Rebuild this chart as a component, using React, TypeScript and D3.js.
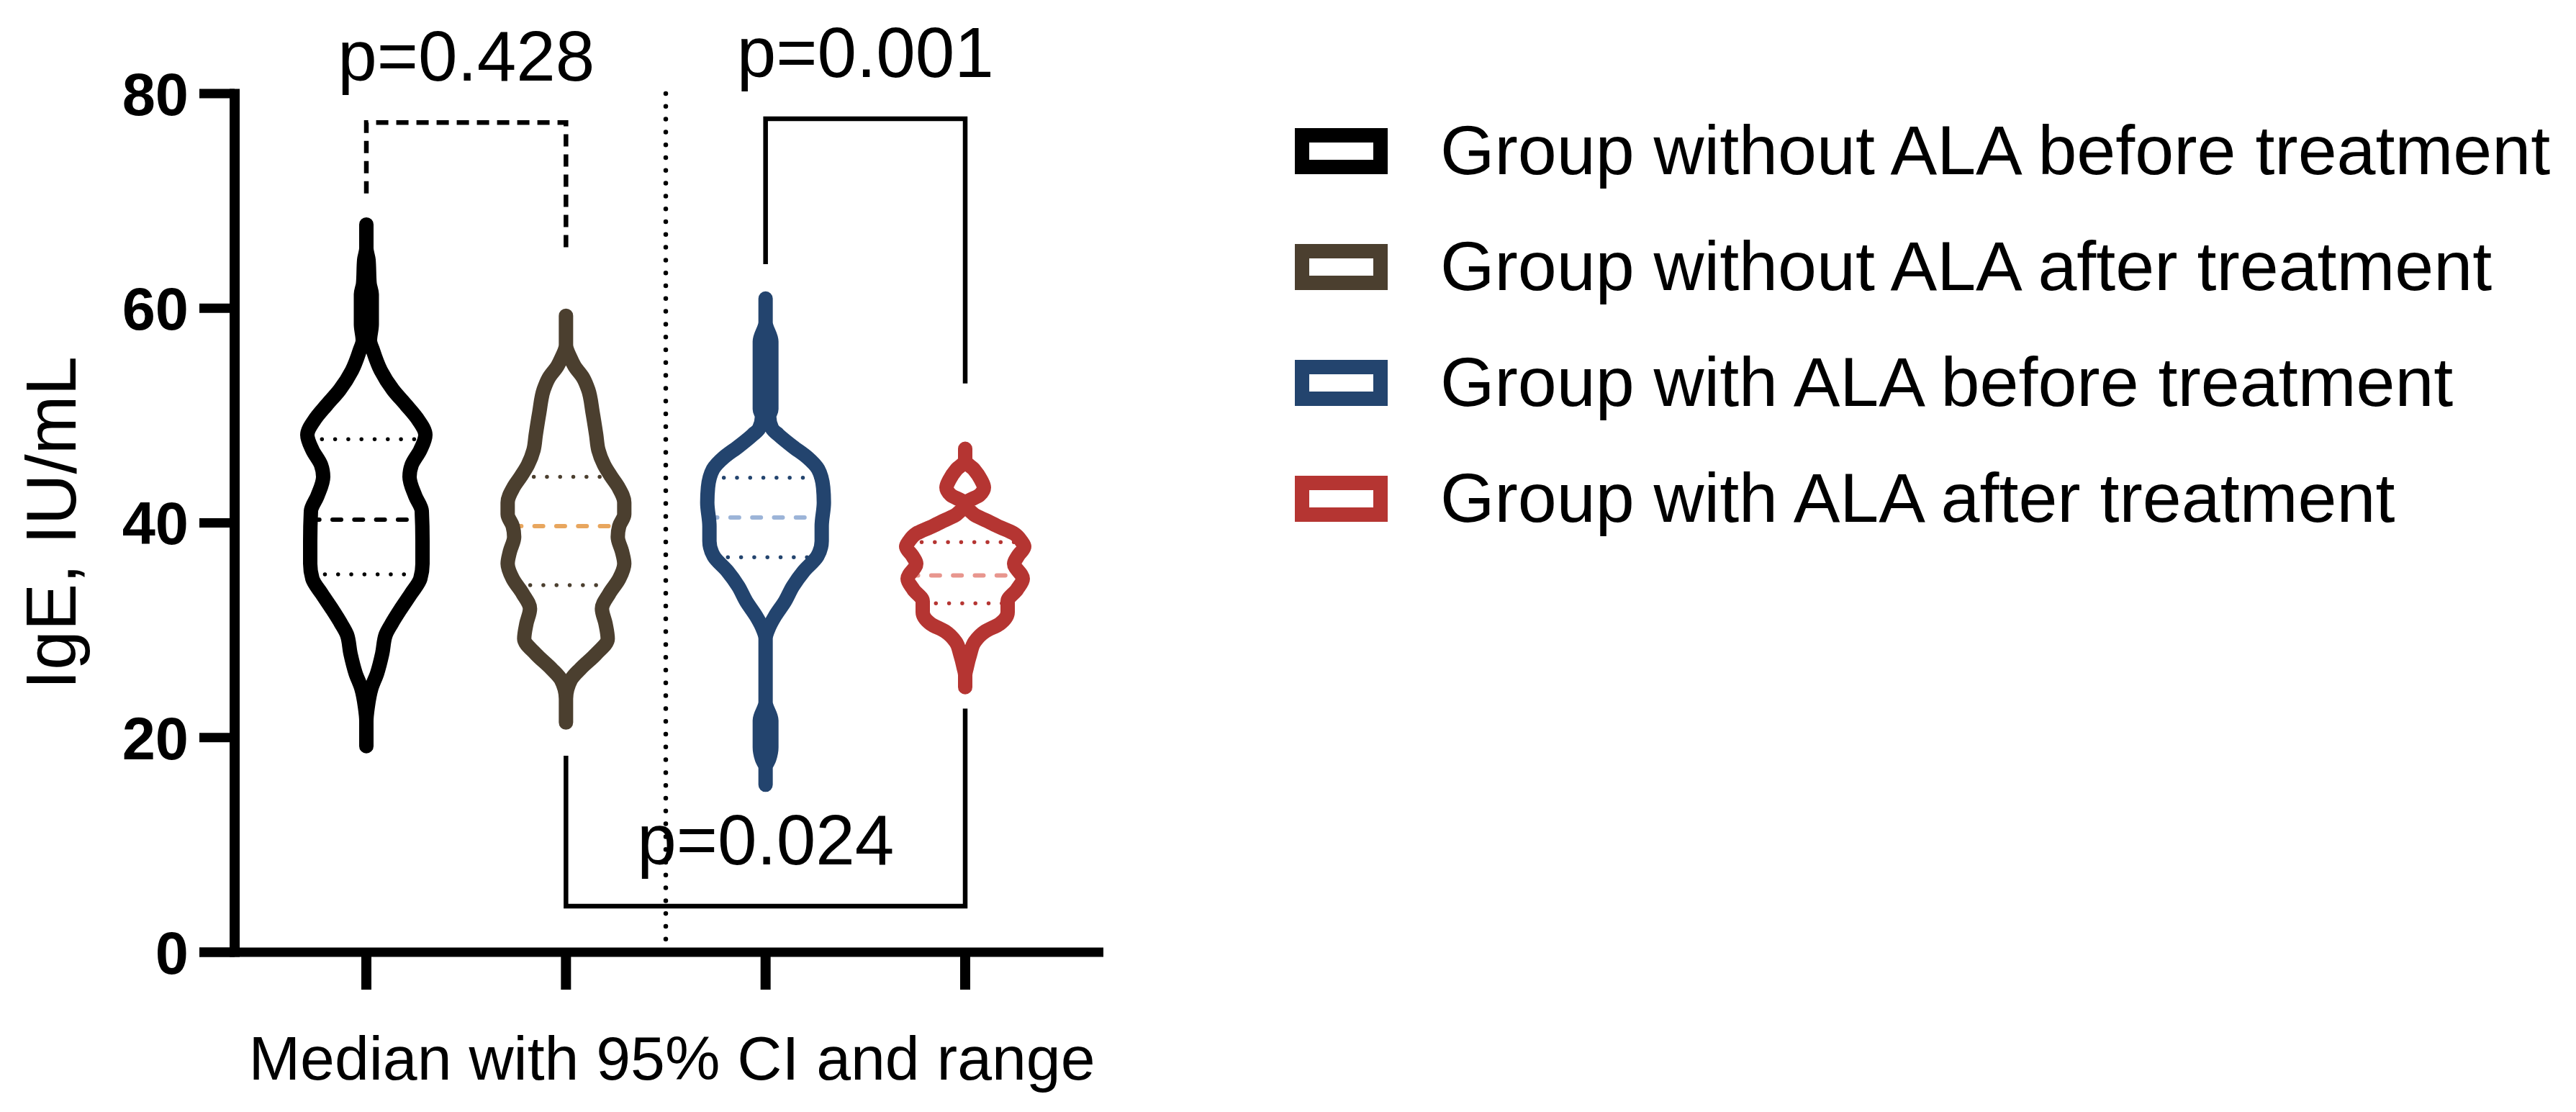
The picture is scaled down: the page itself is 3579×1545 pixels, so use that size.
import React from "react";
import * as d3 from "d3";

// ---- data ----
const groups = [
  "Group without ALA before treatment",
  "Group without ALA after treatment",
  "Group with ALA before treatment",
  "Group with ALA after treatment",
];
const colors = ["#000000", "#4B3F2F", "#23446E", "#B53532"];
const medianColors = ["#000000", "#E8A65E", "#9CB4D8", "#E8968E"];

const medians = [40.3, 39.7, 40.5, 35.1];
const upperQuartiles = [47.8, 44.3, 44.2, 38.2];
const lowerQuartiles = [35.2, 34.2, 36.8, 32.5];

// violin outlines: [IgE value, relative density]
const densityNoAlaBefore = [
  [67.8, 0], [65.6, 0], [64.5, 0.03], [62.3, 0.045], [61.3, 0.075], [58.5, 0.075],
  [57.0, 0.05], [56.1, 0.09], [54.2, 0.2], [52.4, 0.37], [51.0, 0.55], [49.6, 0.72],
  [48.2, 0.82], [46.8, 0.75], [45.4, 0.63], [44.3, 0.6], [42.5, 0.68], [41.1, 0.77],
  [38.3, 0.78], [36.2, 0.78], [34.8, 0.75], [33.4, 0.62], [32.0, 0.48], [30.6, 0.35],
  [29.6, 0.27], [27.8, 0.22], [26.0, 0.15], [24.6, 0.07], [22.9, 0.02], [21.5, 0], [19.2, 0],
];
const densityNoAlaAfter = [
  [59.3, 0], [56.6, 0], [55.4, 0.06], [54.6, 0.12], [53.5, 0.24], [52.4, 0.31],
  [50.3, 0.37], [48.2, 0.42], [46.8, 0.45], [45.4, 0.53], [44.3, 0.63], [43.3, 0.73],
  [41.9, 0.81], [40.8, 0.81], [39.7, 0.74], [38.7, 0.72], [37.3, 0.78], [36.2, 0.81],
  [34.8, 0.74], [33.4, 0.6], [32.0, 0.5], [30.6, 0.55], [29.2, 0.58], [27.8, 0.42],
  [26.4, 0.2], [25.4, 0.07], [23.6, 0], [21.4, 0],
];
const densityAlaBefore = [
  [60.9, 0], [58.7, 0], [56.9, 0.08], [50.6, 0.08], [49.9, 0.05], [48.8, 0.09],
  [48.2, 0.18], [47.1, 0.38], [46.1, 0.58], [45.0, 0.73], [43.3, 0.8], [41.9, 0.81],
  [39.7, 0.78], [38.3, 0.78], [36.9, 0.72], [35.5, 0.53], [34.1, 0.38], [32.7, 0.27],
  [31.3, 0.13], [30.3, 0.05], [29.2, 0], [23.3, 0], [21.6, 0.08], [19.1, 0.08],
  [18.0, 0.05], [17.2, 0], [15.6, 0],
];
const densityAlaAfter = [
  [46.9, 0], [45.8, 0], [45.0, 0.12], [44.0, 0.22], [43.3, 0.26], [42.6, 0.2],
  [41.85, 0.02], [40.8, 0.12], [40.2, 0.3], [39.7, 0.45], [39.0, 0.68], [38.3, 0.78],
  [37.8, 0.82], [36.9, 0.73], [36.2, 0.68], [34.8, 0.8], [33.8, 0.72], [32.7, 0.59],
  [31.7, 0.59], [30.6, 0.48], [29.9, 0.28], [28.9, 0.13], [27.8, 0.07], [26.5, 0.02],
  [25.8, 0], [24.7, 0],
];
const densities = [densityNoAlaBefore, densityNoAlaAfter, densityAlaBefore, densityAlaAfter];

const yTicks = [0, 20, 40, 60, 80];

const brackets = [
  { from: 0, to: 1, level: 77.3, leftEnd: 70.7, rightEnd: 65.6, label: "p=0.428", dashed: true },
  { from: 2, to: 3, level: 77.65, leftEnd: 64.1, rightEnd: 53.0, label: "p=0.001", dashed: false },
  { from: 1, to: 3, level: 4.3, leftEnd: 18.3, rightEnd: 22.7, label: "p=0.024", dashed: false },
];

const yTitle = "IgE, IU/mL";
const xTitle = "Median with 95% CI and range";

// ---- layout ----
const width = 3579;
const height = 1545;
const font = "'Liberation Sans', Arial, sans-serif";

const yScale = d3.scaleLinear().domain([0, 80]).range([1323, 130]);
const xScale = d3.scalePoint<number>().domain([0, 1, 2, 3]).range([509, 1341]);
const widthScale = d3.scaleLinear().domain([0, 1]).range([0, 100]);
const axisX = 326;
const axisLeft = 277;
const axisRight = 1533;
const outline = 20;

const halfWidthAt = (profile: number[][], v: number) => {
  for (let i = 0; i < profile.length - 1; i++) {
    const [v0, d0] = profile[i];
    const [v1, d1] = profile[i + 1];
    if (v <= v0 && v >= v1) {
      const t = v0 === v1 ? 0 : (v0 - v) / (v0 - v1);
      return widthScale(d0 + (d1 - d0) * t);
    }
  }
  return 0;
};

function Violin({ i }: { i: number }) {
  const cx = xScale(i) as number;
  const profile = densities[i];
  const area = d3
    .area<number[]>()
    .y((d) => yScale(d[0]))
    .x0((d) => cx - widthScale(d[1]))
    .x1((d) => cx + widthScale(d[1]))
    .curve(d3.curveMonotoneY);
  const path = area(profile) || "";

  const hLine = (v: number, stroke: string, dotted: boolean, key: string) => {
    const hw = halfWidthAt(profile, v);
    return (
      <line
        key={key}
        x1={cx - hw}
        x2={cx + hw}
        y1={yScale(v)}
        y2={yScale(v)}
        stroke={stroke}
        strokeWidth={dotted ? 5.5 : 6}
        strokeLinecap="round"
        strokeDasharray={dotted ? "0 18.3" : "12 18.3"}
      />
    );
  };

  return (
    <g>
      <path d={path} fill="#fff" stroke="none" />
      {hLine(upperQuartiles[i], colors[i], true, "q3")}
      {hLine(lowerQuartiles[i], colors[i], true, "q1")}
      {hLine(medians[i], medianColors[i], false, "med")}
      <path d={path} fill="none" stroke={colors[i]} strokeWidth={outline} strokeLinejoin="round" />
    </g>
  );
}

export default function App() {
  const sepX = ((xScale(1) as number) + (xScale(2) as number)) / 2;
  const legendRow = d3.scaleLinear().domain([0, 3]).range([210, 693]);

  return (
    <svg
      width={width}
      height={height}
      style={{ position: "absolute", left: 0, top: 0, background: "#fff" }}
      fontFamily={font}
    >
      <rect width={width} height={height} fill="#fff" />

      {/* separator */}
      <line
        x1={sepX}
        x2={sepX}
        y1={yScale(80)}
        y2={yScale(0)}
        stroke="#000"
        strokeWidth={6.5}
        strokeLinecap="round"
        strokeDasharray="0 17.8"
      />

      {/* brackets */}
      {brackets.map((b, k) => {
        const x1 = xScale(b.from) as number;
        const x2 = xScale(b.to) as number;
        const yl = yScale(b.level);
        return (
          <g key={k}>
            <path
              d={`M${x1},${yScale(b.leftEnd)}L${x1},${yl}L${x2},${yl}L${x2},${yScale(b.rightEnd)}`}
              fill="none"
              stroke="#000"
              strokeWidth={6.5}
              strokeDasharray={b.dashed ? "17 11" : undefined}
            />
            <text x={(x1 + x2) / 2} y={yl - 58} textAnchor="middle" fontSize={98} fill="#000">
              {b.label}
            </text>
          </g>
        );
      })}

      {/* violins */}
      {groups.map((g, i) => (
        <Violin key={g} i={i} />
      ))}

      {/* y axis */}
      <line x1={axisX} x2={axisX} y1={yScale(80) - 6.5} y2={yScale(0) + 6.5} stroke="#000" strokeWidth={14} />
      {yTicks.map((t) => (
        <g key={t}>
          <line x1={axisLeft} x2={axisX} y1={yScale(t)} y2={yScale(t)} stroke="#000" strokeWidth={13} />
          <text
            x={262}
            y={yScale(t)}
            dy="0.36em"
            textAnchor="end"
            fontSize={83}
            fontWeight="bold"
            fill="#000"
          >
            {t}
          </text>
        </g>
      ))}
      <text
        transform={`translate(105,${yScale(40)}) rotate(-90)`}
        textAnchor="middle"
        fontSize={98}
        fill="#000"
      >
        {yTitle}
      </text>

      {/* x axis */}
      <line x1={axisLeft} x2={axisRight} y1={yScale(0)} y2={yScale(0)} stroke="#000" strokeWidth={13} />
      {groups.map((g, i) => (
        <line
          key={g}
          x1={xScale(i)}
          x2={xScale(i)}
          y1={yScale(0)}
          y2={1375}
          stroke="#000"
          strokeWidth={14}
        />
      ))}
      <text x={(axisX + axisRight) / 2 + 4} y={1500} textAnchor="middle" fontSize={86} fill="#000">
        {xTitle}
      </text>

      {/* legend */}
      {groups.map((g, i) => {
        const cy = legendRow(i);
        return (
          <g key={g}>
            <rect x={1809} y={cy - 22} width={109} height={44} fill="#fff" stroke={colors[i]} strokeWidth={20} />
            <text x={2001} y={cy + 32} fontSize={97} fill="#000">
              {g}
            </text>
          </g>
        );
      })}
    </svg>
  );
}
